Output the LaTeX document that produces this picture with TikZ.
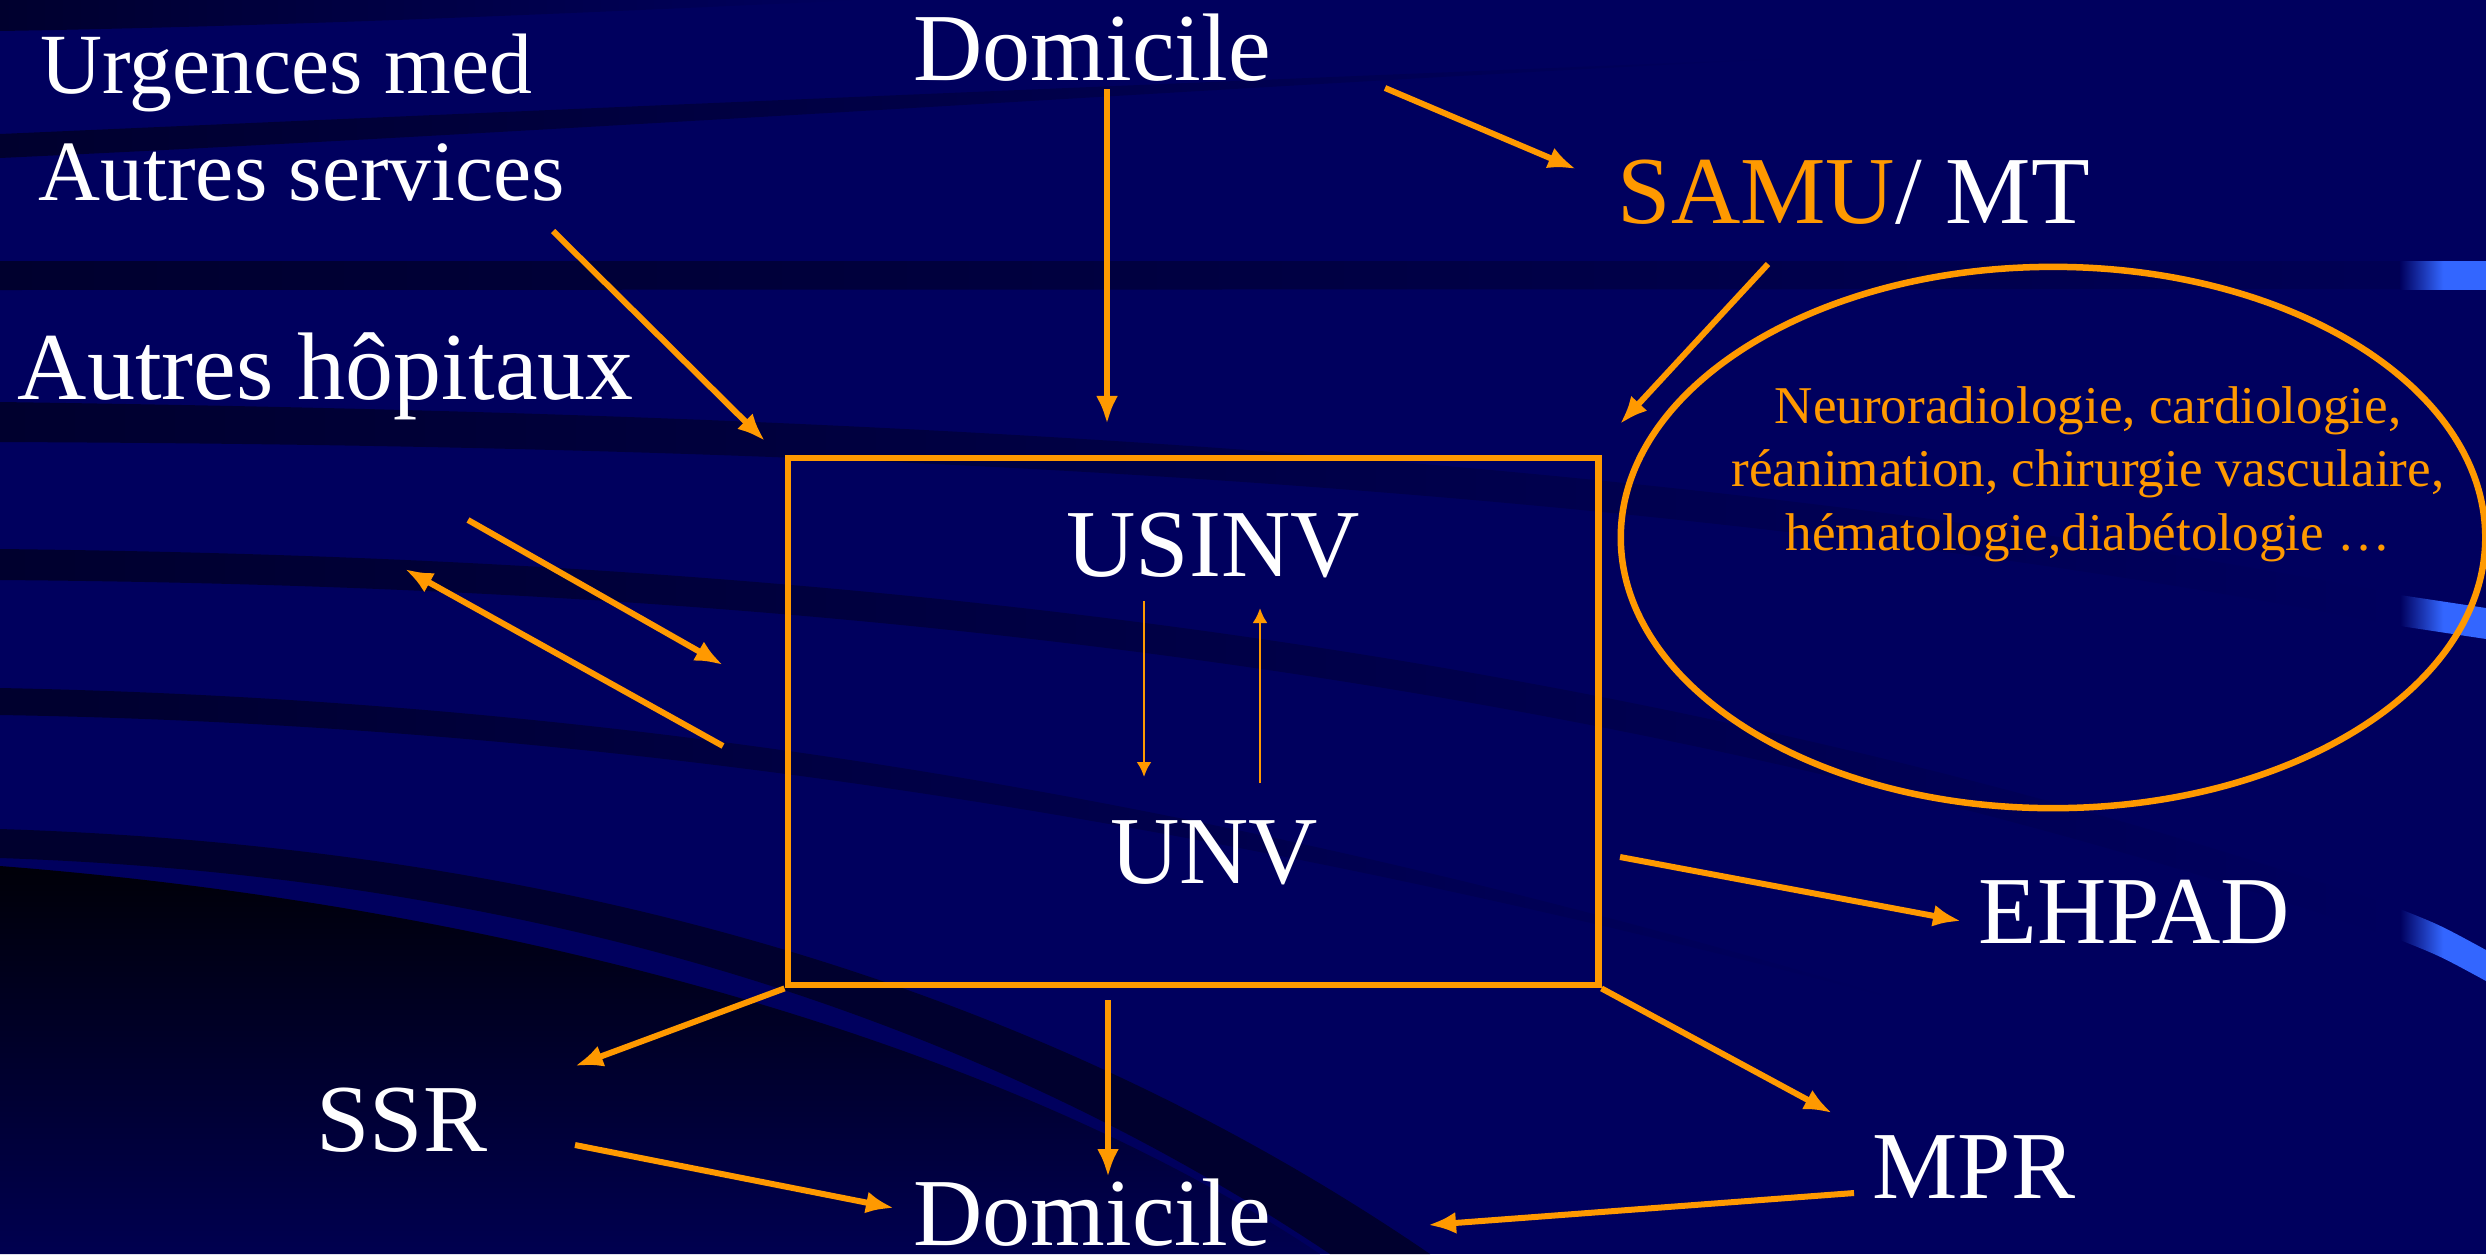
\documentclass[tikz,border=0pt]{standalone}
\usepackage{fontspec}
\setmainfont{Liberation Serif}
\usetikzlibrary{arrows.meta,shapes.geometric}

\definecolor{navy}{RGB}{0,0,94}
\definecolor{streak}{RGB}{0,0,46}
\definecolor{deep}{RGB}{0,0,8}
\definecolor{flame}{RGB}{255,153,0}
\definecolor{glow}{RGB}{51,102,255}

\begin{document}
\begin{tikzpicture}[x=0.01cm,y=-0.01cm,
  lblbig/.style={text=white,font=\fontsize{27.3}{32}\selectfont,inner sep=0pt},
  lblmid/.style={text=white,font=\fontsize{24.4}{29}\selectfont,inner sep=0pt},
  frame/.style={draw=flame,line width=0.065cm,inner sep=0pt},
  band/.style={left color=streak,right color=navy},
  flow/.style={draw=flame,line width=0.06cm,-{Latex[length=0.28cm,width=0.22cm]}},
  fineflow/.style={draw=flame,line width=0.027cm,-{Latex[length=0.15cm,width=0.15cm]}}]
  \useasboundingbox (0,0) rectangle (2486,1254);
  \fill[navy] (0,0) rectangle (2486,1254);
  \shade[band] (0,0) -- (860,0) .. controls (600,12) and (300,26) .. (0,31) -- cycle;
  \shade[band] (0,134) .. controls (500,112) and (1100,86) .. (1800,58) .. controls (1300,82) and (600,130) .. (0,158) -- cycle;
  \shade[left color=streak,right color=navy!80!streak] (0,261) -- (2400,261) -- (2400,289) -- (0,290) -- cycle;
  \shade[band] (0,402) .. controls (700,412) and (1600,440) .. (2400,595) -- (2400,626) .. controls (1600,470) and (700,445) .. (0,442) -- cycle;
  \shade[band] (0,549) .. controls (600,556) and (1500,600) .. (2400,909) -- (2400,940) .. controls (1500,630) and (600,585) .. (0,580) -- cycle;
  \shade[band] (0,688) .. controls (600,700) and (1200,790) .. (1900,1000) .. controls (1200,815) and (600,725) .. (0,715) -- cycle;
  \fill[streak] (0,829) .. controls (500,845) and (1000,960) .. (1430,1254) -- (1330,1254) .. controls (950,1000) and (500,875) .. (0,858) -- cycle;
  \shade[top color=deep,bottom color=navy!85!black] (0,866) .. controls (500,905) and (1000,1040) .. (1320,1254) -- (0,1254) -- cycle;
  \shade[left color=navy,right color=glow,middle color=glow] (2400,261) rectangle (2486,289);
  \shade[left color=navy,right color=glow,middle color=glow] (2400,595) -- (2486,608) -- (2486,639) -- (2400,626) -- cycle;
  \shade[left color=navy,right color=glow,middle color=glow] (2400,909) .. controls (2440,925) .. (2486,950) -- (2486,981) .. controls (2440,956) .. (2400,940) -- cycle;

  \node[lblmid,anchor=base west] (urg) at (40,93) {Urgences med};
  \node[lblmid,anchor=base west] (svc) at (38,200) {Autres services};
  \node[lblbig,anchor=base west] (hop) at (17,399) {Autres hôpitaux};
  \node[lblbig,anchor=base] (dom1) at (1092,80) {Domicile};
  \node[lblbig,anchor=base west] (samu) at (1617,223) {\textcolor{flame}{SAMU}/ MT};
  \node[frame,minimum width=8.1cm,minimum height=5.27cm] (unit) at (1193,721.5) {};
  \node[lblbig,anchor=base] (usinv) at (1213,576) {USINV};
  \node[lblbig,anchor=base] (unv) at (1214,883) {UNV};
  \node[frame,ellipse,minimum width=8.64cm,minimum height=5.41cm] (spec) at (2053,537.5) {};
  \node[text=flame,font=\fontsize{15.1}{18}\selectfont,align=center,inner sep=0pt,anchor=north] (spectxt) at (2088,386) {Neuroradiologie, cardiologie,\\réanimation, chirurgie vasculaire,\\hématologie,diabétologie …};
  \node[lblbig,anchor=base] (ssr) at (402,1151) {SSR};
  \node[lblbig,anchor=base] (dom2) at (1092,1245) {Domicile};
  \node[lblbig,anchor=base] (ehpad) at (2134,943) {EHPAD};
  \node[lblbig,anchor=base] (mpr) at (1974,1198) {MPR};

  \coordinate (homeOut) at (1107,89);
  \coordinate (unitTop) at (1107,424);
  \coordinate (homeSide) at (1385,88);
  \coordinate (samuIn) at (1576,169);
  \coordinate (samuOut) at (1768,264);
  \coordinate (unitCorner) at (1620,424);
  \coordinate (svcOut) at (553,231);
  \coordinate (unitLeftTop) at (765,441);
  \coordinate (hopOut) at (468,520);
  \coordinate (unitLeftIn) at (723,665);
  \coordinate (unitLeftOut) at (723,746);
  \coordinate (hopIn) at (405,569);
  \coordinate (ssrIn) at (575,1066);
  \coordinate (unitBottom) at (1108,1000);
  \coordinate (homeIn) at (1108,1177);
  \coordinate (ssrOut) at (575,1145);
  \coordinate (homeLeft) at (894,1208);
  \coordinate (unitRight) at (1620,857);
  \coordinate (ehpadIn) at (1961,921);
  \coordinate (mprIn) at (1832,1113);
  \coordinate (mprOut) at (1854,1193);
  \coordinate (homeRight) at (1428,1225);
  \coordinate (usinvOut) at (1144,601);
  \coordinate (unvIn) at (1144,777);
  \coordinate (unvOut) at (1260,783);
  \coordinate (usinvIn) at (1260,608);

  \draw[flow] (homeOut) -- (unitTop);
  \draw[flow] (homeSide) -- (samuIn);
  \draw[flow] (samuOut) -- (unitCorner);
  \draw[flow] (svcOut) -- (unitLeftTop);
  \draw[flow] (hopOut) -- (unitLeftIn);
  \draw[flow] (unitLeftOut) -- (hopIn);
  \draw[flow] (unit.south west) -- (ssrIn);
  \draw[flow] (unitBottom) -- (homeIn);
  \draw[flow] (ssrOut) -- (homeLeft);
  \draw[flow] (unitRight) -- (ehpadIn);
  \draw[flow] (unit.south east) -- (mprIn);
  \draw[flow] (mprOut) -- (homeRight);
  \draw[fineflow] (usinvOut) -- (unvIn);
  \draw[fineflow] (unvOut) -- (usinvIn);
\end{tikzpicture}
\end{document}
